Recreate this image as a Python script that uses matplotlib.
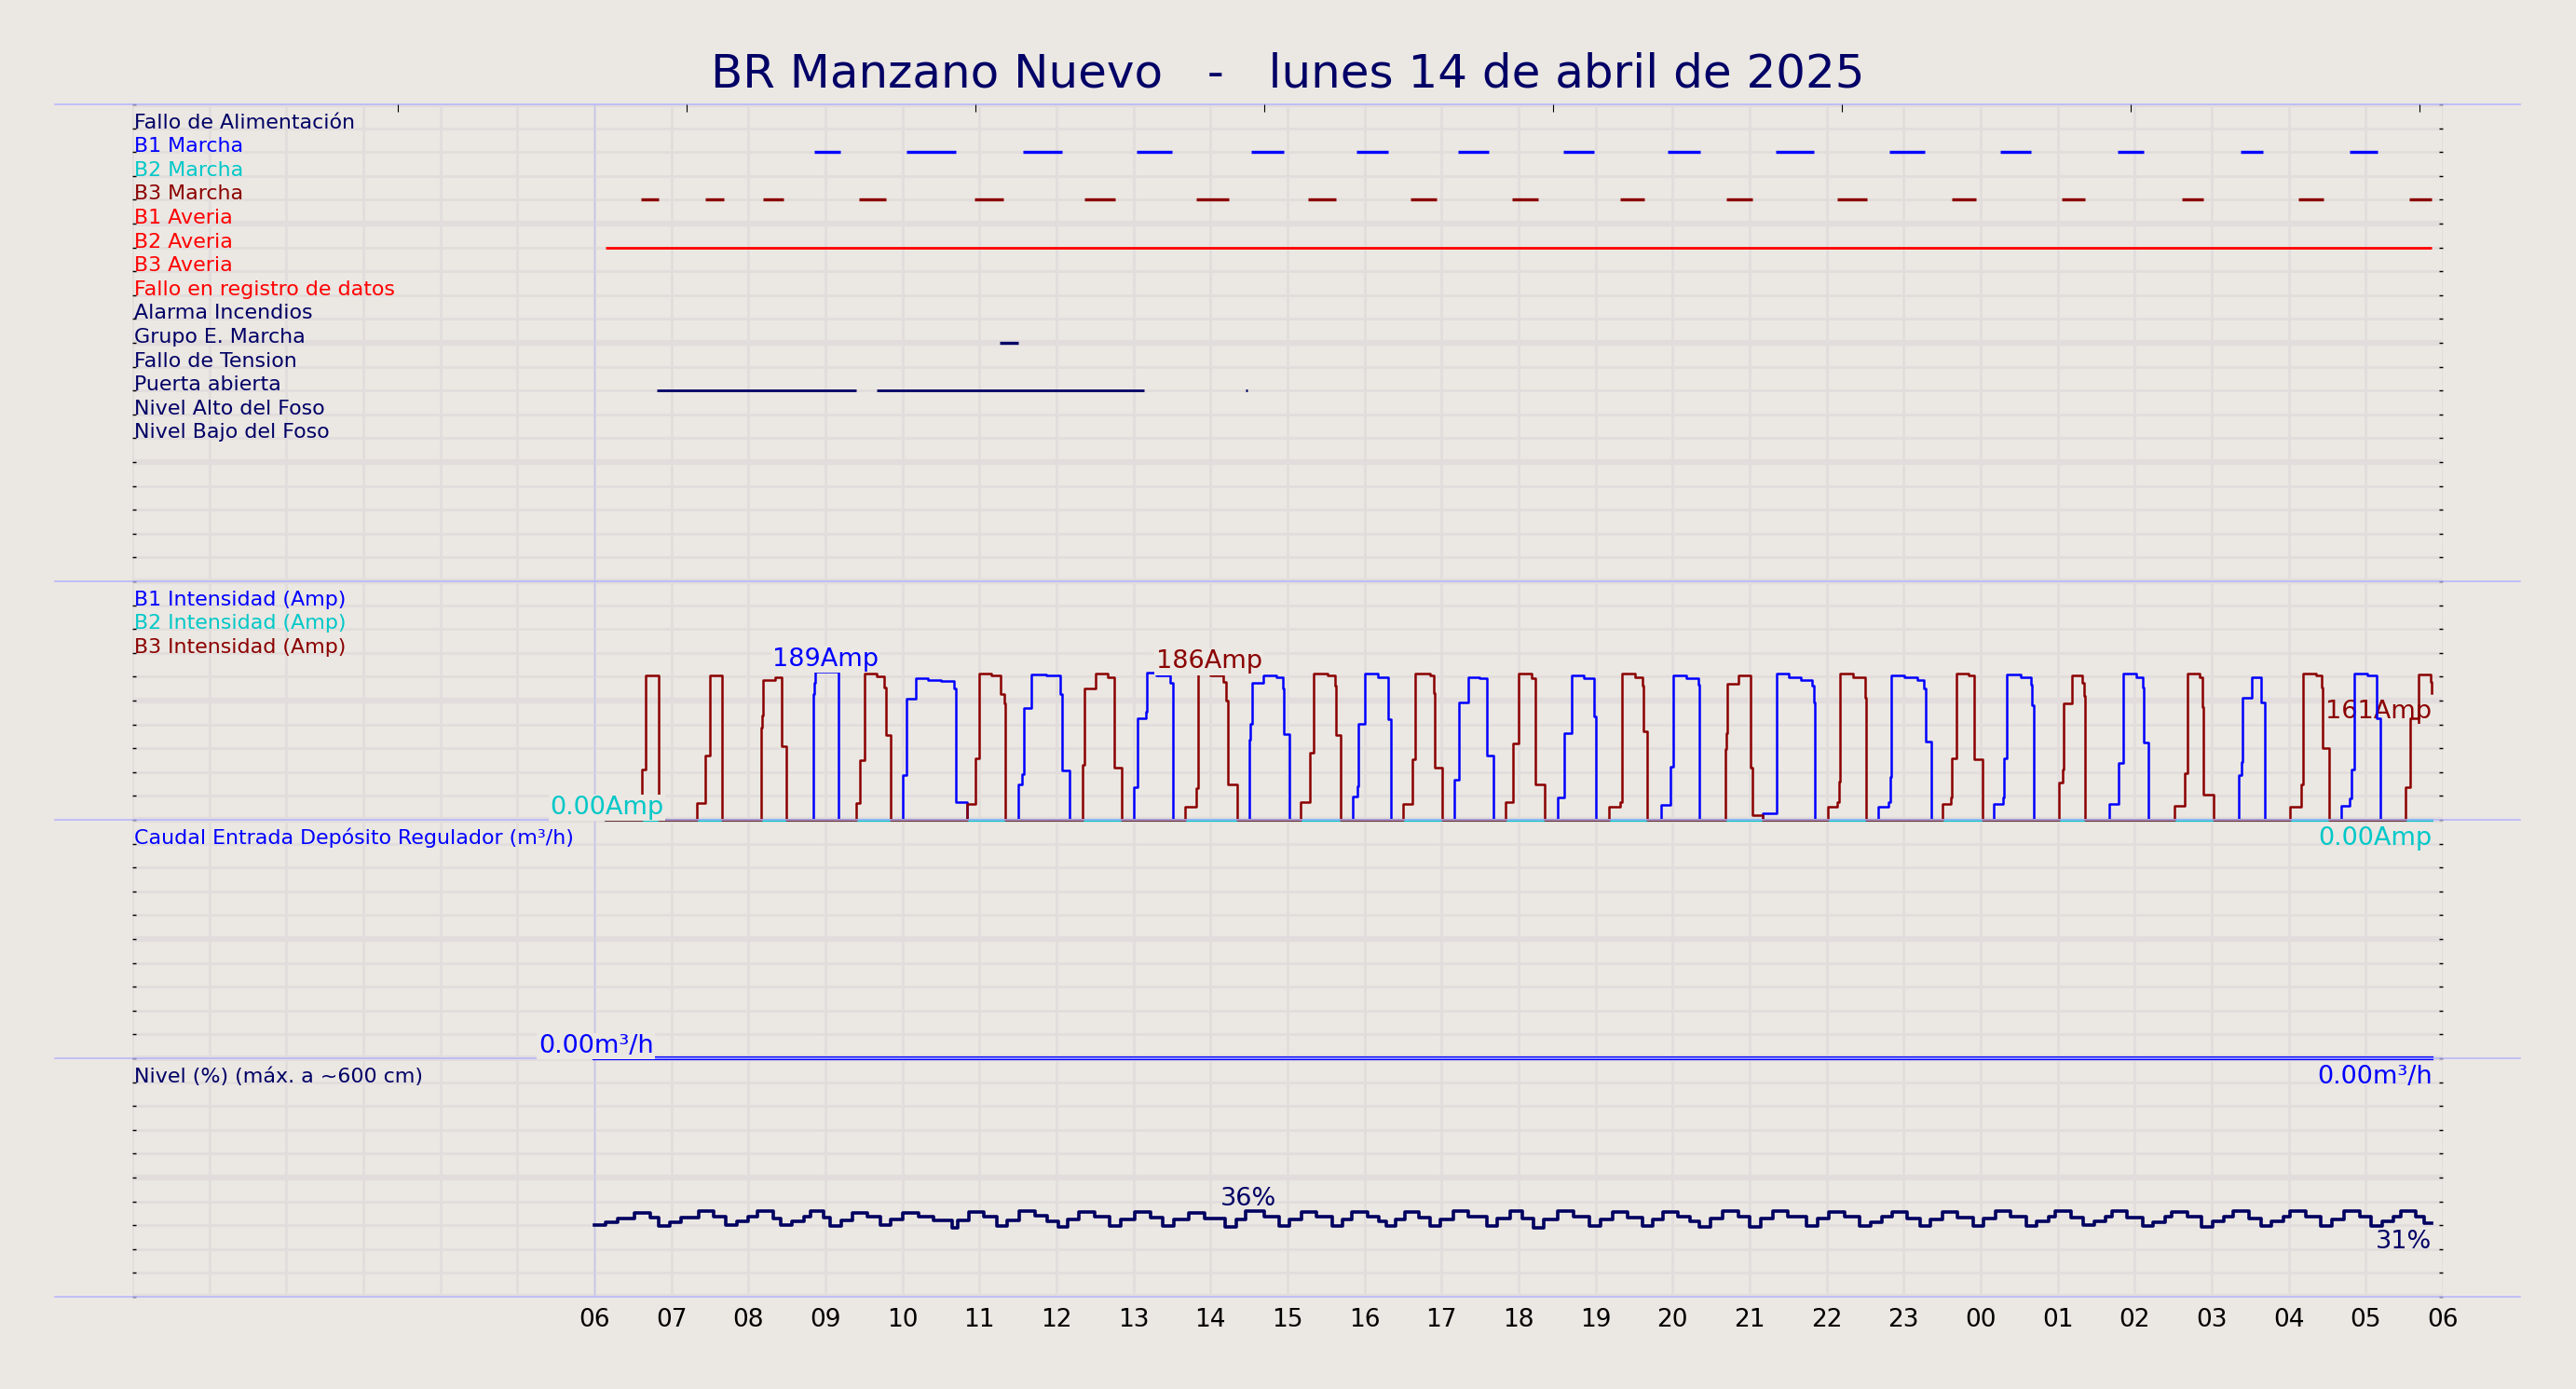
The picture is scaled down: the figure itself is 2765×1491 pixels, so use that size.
import matplotlib
matplotlib.use('Agg')
import matplotlib.pyplot as plt

# colours
BG = '#ebe7e2'
GRID = '#e2dddc'
SEP = '#b4b4ff'
NAVY = '#000066'
BLUE = '#0000ff'
CYAN = '#00c8c8'
DRED = '#8b0000'
RED = '#ff0000'

title = 'BR Manzano Nuevo   -   lunes 14 de abril de 2025'
hour_labels = ['06', '07', '08', '09', '10', '11', '12', '13', '14', '15', '16', '17',
               '18', '19', '20', '21', '22', '23', '00', '01', '02', '03', '04', '05', '06']

# digital signals, one row each (top panel)
sig_names = ['Fallo de Alimentación', 'B1 Marcha', 'B2 Marcha', 'B3 Marcha',
             'B1 Averia', 'B2 Averia', 'B3 Averia', 'Fallo en registro de datos',
             'Alarma Incendios', 'Grupo E. Marcha', 'Fallo de Tension',
             'Puerta abierta', 'Nivel Alto del Foso', 'Nivel Bajo del Foso']
sig_colors = [NAVY, BLUE, CYAN, DRED, RED, RED, RED, RED,
              NAVY, NAVY, NAVY, NAVY, NAVY, NAVY]

# on-intervals in hours after 06:00
b1_run = [(2.85, 3.19), (4.05, 4.69), (5.56, 6.07), (7.04, 7.50), (8.53, 8.95),
          (9.90, 10.31), (11.21, 11.61), (12.58, 12.98), (13.94, 14.36),
          (15.34, 15.83), (16.82, 17.28), (18.26, 18.65), (19.78, 20.12),
          (21.38, 21.66), (22.79, 23.15)]
b3_run = [(0.61, 0.84), (1.44, 1.68), (2.19, 2.45), (3.44, 3.79), (4.94, 5.31),
          (6.36, 6.76), (7.81, 8.24), (9.27, 9.63), (10.60, 10.93), (11.92, 12.25),
          (13.32, 13.63), (14.70, 15.04), (16.14, 16.52), (17.62, 17.94),
          (19.05, 19.35), (20.61, 20.89), (22.12, 22.45), (23.56, 23.86)]
b2_fault = [(0.14, 23.86)]
genset_run = [(5.26, 5.50)]
door_open = [(0.81, 3.40), (3.66, 7.14), (8.45, 8.48)]

t_start = 0.14
t_end = 23.86

# pump currents (Amp), stepped: (hour, value)
b1_pulses = [
    [(2.837, 160), (2.857, 174), (2.869, 189), (3.168, 0)],
    [(3.999, 57), (4.048, 154), (4.169, 181), (4.33, 178), (4.499, 177), (4.673, 167), (4.69, 22), (4.834, 0)],
    [(5.500, 45), (5.549, 58), (5.573, 142), (5.674, 185), (5.864, 184), (6.053, 160), (6.077, 63), (6.166, 0)],
    [(7.002, 41), (7.055, 130), (7.156, 138), (7.176, 188), (7.297, 184), (7.478, 174), (7.510, 0)],
    [(8.507, 102), (8.52, 122), (8.540, 174), (8.689, 184), (8.850, 182), (8.939, 167), (8.951, 109), (9.020, 0)],
    [(9.847, 30), (9.907, 43), (9.919, 122), (10.008, 186), (10.174, 182), (10.303, 128), (10.343, 0)],
    [(11.171, 51), (11.223, 150), (11.352, 182), (11.493, 180), (11.586, 82), (11.675, 0)],
    [(12.510, 29), (12.595, 111), (12.684, 184), (12.845, 181), (12.975, 132), (13.007, 0)],
    [(13.846, 19), (13.967, 68), (14.007, 184), (14.177, 181), (14.338, 172), (14.350, 0)],
    [(15.173, 8), (15.347, 186), (15.508, 182), (15.670, 178), (15.811, 171), (15.831, 150), (15.851, 0)],
    [(16.671, 17), (16.808, 23), (16.824, 55), (16.840, 184), (17.010, 182), (17.183, 178), (17.264, 167), (17.284, 100), (17.353, 0)],
    [(18.172, 20), (18.285, 29), (18.301, 78), (18.342, 185), (18.515, 182), (18.648, 172), (18.664, 146), (18.685, 0)],
    [(19.673, 20), (19.794, 72), (19.847, 186), (20.016, 182), (20.101, 169), (20.117, 99), (20.182, 0)],
    [(21.352, 57), (21.392, 74), (21.400, 156), (21.522, 182), (21.643, 150), (21.691, 0)],
    [(22.676, 18), (22.793, 27), (22.813, 64), (22.845, 186), (23.015, 184), (23.144, 130), (23.184, 0)],
]
b3_pulses = [
    [(0.617, 64), (0.666, 184), (0.839, 0)],
    [(1.335, 21), (1.445, 82), (1.505, 184), (1.658, 0)],
    [(2.171, 117), (2.183, 133), (2.195, 178), (2.345, 182), (2.433, 94), (2.494, 0)],
    [(3.394, 21), (3.450, 76), (3.503, 186), (3.664, 183), (3.765, 169), (3.785, 108), (3.846, 0)],
    [(4.834, 20), (4.943, 78), (4.996, 186), (5.157, 184), (5.279, 160), (5.319, 148), (5.339, 0)],
    [(6.340, 70), (6.368, 167), (6.510, 186), (6.671, 182), (6.744, 66), (6.845, 0)],
    [(7.667, 17), (7.820, 40), (7.841, 186), (7.99, 184), (8.164, 176), (8.204, 152), (8.224, 45), (8.345, 0)],
    [(9.165, 23), (9.286, 30), (9.294, 85), (9.334, 186), (9.516, 184), (9.617, 171), (9.625, 108), (9.686, 0)],
    [(10.504, 20), (10.625, 77), (10.657, 186), (10.847, 184), (10.900, 162), (10.908, 66), (11.009, 0)],
    [(11.836, 23), (11.925, 97), (12.005, 186), (12.167, 180), (12.219, 45), (12.340, 0)],
    [(13.176, 17), (13.321, 23), (13.337, 186), (13.511, 182), (13.612, 171), (13.620, 113), (13.672, 0)],
    [(14.681, 90), (14.701, 110), (14.713, 173), (14.850, 184), (15.016, 67), (15.032, 6), (15.173, 0)],
    [(16.013, 17), (16.142, 22), (16.162, 49), (16.174, 186), (16.348, 182), (16.497, 156), (16.517, 0)],
    [(17.506, 20), (17.615, 29), (17.631, 78), (17.680, 186), (17.841, 184), (17.918, 77), (18.019, 0)],
    [(19.011, 48), (19.059, 64), (19.071, 149), (19.180, 184), (19.322, 174), (19.342, 158), (19.350, 0)],
    [(20.512, 18), (20.645, 59), (20.681, 186), (20.847, 182), (20.875, 144), (20.887, 32), (21.025, 0)],
    [(22.014, 17), (22.160, 45), (22.184, 186), (22.349, 184), (22.430, 169), (22.442, 92), (22.523, 0)],
    [(23.519, 41), (23.571, 130), (23.688, 185), (23.842, 176), (23.850, 161)],
]
b2_amp = 0.0

# inflow (m3/h)
flow_t = [0.0, 23.86]
flow_q = [0.0, 0.0]

# level (%)
lvl_t = [0.00, 0.15, 0.30, 0.52, 0.72,
         0.83, 0.98, 1.13, 1.35, 1.55,
         1.70, 1.85, 2.00, 2.12, 2.32,
         2.42, 2.57, 2.72, 2.81, 2.98,
         3.06, 3.20, 3.35, 3.55,
         3.71, 3.85, 4.01, 4.21, 4.40,
         4.64, 4.72, 4.86, 5.06,
         5.23, 5.36, 5.52, 5.72, 5.88,
         6.03, 6.15, 6.29, 6.49,
         6.69, 6.83, 7.02, 7.22,
         7.38, 7.52, 7.72, 7.92,
         8.19, 8.33, 8.45, 8.70,
         8.89, 9.03, 9.18, 9.38,
         9.58, 9.71, 9.84, 10.04, 10.18,
         10.28, 10.40, 10.53, 10.70,
         10.85, 10.98, 11.15, 11.35,
         11.59, 11.72, 11.89, 12.05,
         12.19, 12.33, 12.51, 12.71,
         12.92, 13.06, 13.22, 13.42,
         13.61, 13.74, 13.87, 14.07, 14.22,
         14.35, 14.49, 14.65, 14.85,
         15.00, 15.14, 15.30, 15.50,
         15.74, 15.88, 16.03, 16.23,
         16.43, 16.57, 16.72, 16.85, 17.05,
         17.21, 17.35, 17.50, 17.70,
         17.90, 18.04, 18.19, 18.39,
         18.59, 18.73, 18.88, 18.97, 19.17,
         19.33, 19.47, 19.62, 19.70, 19.90,
         20.10, 20.24, 20.39, 20.48, 20.68,
         20.87, 21.01, 21.16, 21.28, 21.48,
         21.64, 21.78, 21.93, 22.02, 22.22,
         22.42, 22.56, 22.72, 22.92,
         23.07, 23.21, 23.36, 23.45, 23.65,
         23.76, 23.86]
lvl_v = [30.0, 31.4, 33.0, 35.2, 33.2,
         29.6, 31.3, 33.1, 35.8, 33.4,
         29.9, 31.6, 33.5, 35.9, 33.0,
         30.1, 31.8, 33.7, 35.8, 33.2,
         29.8, 32.2, 35.3, 33.5,
         30.2, 32.4, 35.0, 33.6, 31.9,
         29.1, 32.0, 35.7, 33.6,
         29.6, 32.1, 35.9, 33.9, 31.8,
         29.3, 32.3, 35.6, 33.4,
         29.7, 32.6, 35.6, 33.3,
         29.6, 32.4, 35.3, 33.0,
         29.3, 32.5, 36.0, 33.4,
         29.8, 32.6, 35.4, 33.5,
         29.6, 32.3, 35.5, 33.4, 31.6,
         29.7, 32.5, 35.4, 33.2,
         29.5, 32.4, 35.9, 33.6,
         29.6, 32.8, 35.8, 33.0,
         29.0, 32.4, 35.9, 33.6,
         29.6, 32.6, 35.6, 33.3,
         29.7, 32.6, 35.7, 33.7, 31.6,
         29.4, 32.8, 36.0, 33.5,
         29.2, 32.8, 36.0, 33.4,
         29.6, 32.7, 35.6, 33.4,
         29.8, 31.4, 33.6, 35.5, 33.0,
         29.5, 32.6, 35.6, 33.3,
         29.6, 32.7, 35.8, 33.5,
         29.7, 31.5, 33.6, 35.9, 33.2,
         30.1, 31.6, 33.5, 35.8, 33.3,
         29.6, 31.4, 33.6, 35.7, 33.4,
         29.4, 31.5, 33.5, 35.9, 33.0,
         29.8, 31.6, 33.6, 35.8, 33.4,
         29.6, 32.6, 35.8, 33.5,
         29.7, 31.6, 33.6, 36.0, 33.4,
         31.0, 31.0]

AMP_PER_UNIT = 30.4  # current panel: 10 rows
LABEL_FS = 15.9
VALUE_FS = 19.5


def amp_series(pulses):
    t = [t_start]
    a = [0]
    for p in pulses:
        for ti, ai in p:
            t.append(ti)
            a.append(ai)
    t.append(t_end)
    a.append(a[-1])
    return t, [20 + v / AMP_PER_UNIT for v in a]


def draw_intervals(y, spans, color, lw):
    ax.hlines([y] * len(spans), [a for a, b in spans], [b for a, b in spans],
              color=color, lw=lw, zorder=4)


def end_label(y, text, color, zorder=7):
    # last value, written just under the end of the trace
    ax.annotate(text, (t_end, y), xytext=(0, -5), textcoords='offset points',
                color=color, fontsize=VALUE_FS, ha='right', va='top', zorder=zorder)


fig = plt.figure(figsize=(27.65, 14.91), dpi=100, facecolor=BG)
ax = fig.add_axes([142 / 2765, 1 - 1392 / 1491, 2480 / 2765, 1280 / 1491])
ax.set_facecolor(BG)
ax.set_xlim(-6, 24)
ax.set_ylim(0, 50)
for s in ax.spines.values():
    s.set_visible(False)

# grid
ax.set_xticks(range(-6, 25))
ax.set_xticklabels([''] * 6 + hour_labels, fontsize=19)
ax.set_yticks(range(0, 51))
ax.set_yticklabels([])
ax.set_axisbelow(True)
ax.grid(True, color=GRID, lw=2)
for y in range(0, 51, 5):
    ax.axhline(y, color=GRID, lw=4.6, zorder=0.5)
ax.tick_params(axis='x', length=0, pad=9)
ax.tick_params(axis='y', left=True, right=True, direction='in', length=3, width=1, color='black')
ax.axvline(0, color='#c4c4ec', lw=1, zorder=1)

# top panel rows
for i, (name, col) in enumerate(zip(sig_names, sig_colors)):
    ax.text(-5.98, 49 - i, name, color=col, fontsize=LABEL_FS, ha='left', va='baseline', zorder=5)


def row(name):
    return 49 - sig_names.index(name)


draw_intervals(row('B1 Marcha'), b1_run, BLUE, 2.4)
draw_intervals(row('B3 Marcha'), b3_run, DRED, 2.4)
draw_intervals(row('B2 Averia'), b2_fault, RED, 2.0)
draw_intervals(row('Grupo E. Marcha'), genset_run, NAVY, 2.4)
draw_intervals(row('Puerta abierta'), door_open, NAVY, 2.0)

# current panel
ax.text(-5.98, 29, 'B1 Intensidad (Amp)', color=BLUE, fontsize=LABEL_FS, va='baseline')
ax.text(-5.98, 28, 'B2 Intensidad (Amp)', color=CYAN, fontsize=LABEL_FS, va='baseline')
ax.text(-5.98, 27, 'B3 Intensidad (Amp)', color=DRED, fontsize=LABEL_FS, va='baseline')
t1, y1 = amp_series(b1_pulses)
t3, y3 = amp_series(b3_pulses)
ax.plot(t1, y1, drawstyle='steps-post', color=BLUE, lw=1.8, zorder=3)
ax.plot([t_start, t_end], [20 + b2_amp / AMP_PER_UNIT] * 2, color=CYAN, lw=2.2, zorder=3.5)
ax.plot(t3, y3, drawstyle='steps-post', color=DRED, lw=1.8, zorder=4)

# flow panel
ax.text(-5.98, 19, 'Caudal Entrada Depósito Regulador (m³/h)', color=BLUE, fontsize=LABEL_FS, va='baseline')
ax.plot(flow_t, [10 + q for q in flow_q], color=BLUE, lw=3.0, zorder=4)

# level panel
ax.text(-5.98, 9, 'Nivel (%) (máx. a ~600 cm)', color=NAVY, fontsize=LABEL_FS, va='baseline')
ax.plot(lvl_t, [v / 10 for v in lvl_v], drawstyle='steps-post', color='#000060', lw=2.6, zorder=4)

# panel separators
for y in [0, 10, 20, 30, 50]:
    ax.plot([-7, 25], [y, y], color=SEP, lw=1.1, clip_on=False, zorder=6)

# value labels
box = dict(fc=BG, ec='none', pad=1)
ax.text(0.16, 20, '0.00Amp', color=CYAN, fontsize=VALUE_FS, ha='center', va='bottom', bbox=box, zorder=8)
ax.text(0.02, 10, '0.00m³/h', color=BLUE, fontsize=VALUE_FS, ha='center', va='bottom', bbox=box, zorder=8)
ax.text(3.0, 20 + 189 / AMP_PER_UNIT, '189Amp', color=BLUE, fontsize=VALUE_FS, ha='center', va='bottom', bbox=box, zorder=8)
ax.text(7.98, 20 + 186 / AMP_PER_UNIT, '186Amp', color=DRED, fontsize=VALUE_FS, ha='center', va='bottom', bbox=box, zorder=8)
ax.text(8.49, 3.6, '36%', color=NAVY, fontsize=VALUE_FS, ha='center', va='bottom', zorder=8)
end_label(20, '0.00Amp', CYAN)
end_label(20 + 161 / AMP_PER_UNIT, '161Amp', DRED, zorder=2)
end_label(10, '0.00m³/h', BLUE)
end_label(3.1, '31%', NAVY)

# small ticks along the top edge
ax_top = ax.twiny()
ax_top.set_xlim(-0.92, 7.08)
ax_top.set_xticks(range(8))
ax_top.tick_params(axis='x', direction='in', length=6, width=0.8, color='black', labeltop=False)
for s in ax_top.spines.values():
    s.set_visible(False)

fig.text(0.5, 1 - 80 / 1491, title, color=NAVY, fontsize=36, ha='center', va='center')

fig.savefig('out.png', dpi=100, facecolor=BG)
